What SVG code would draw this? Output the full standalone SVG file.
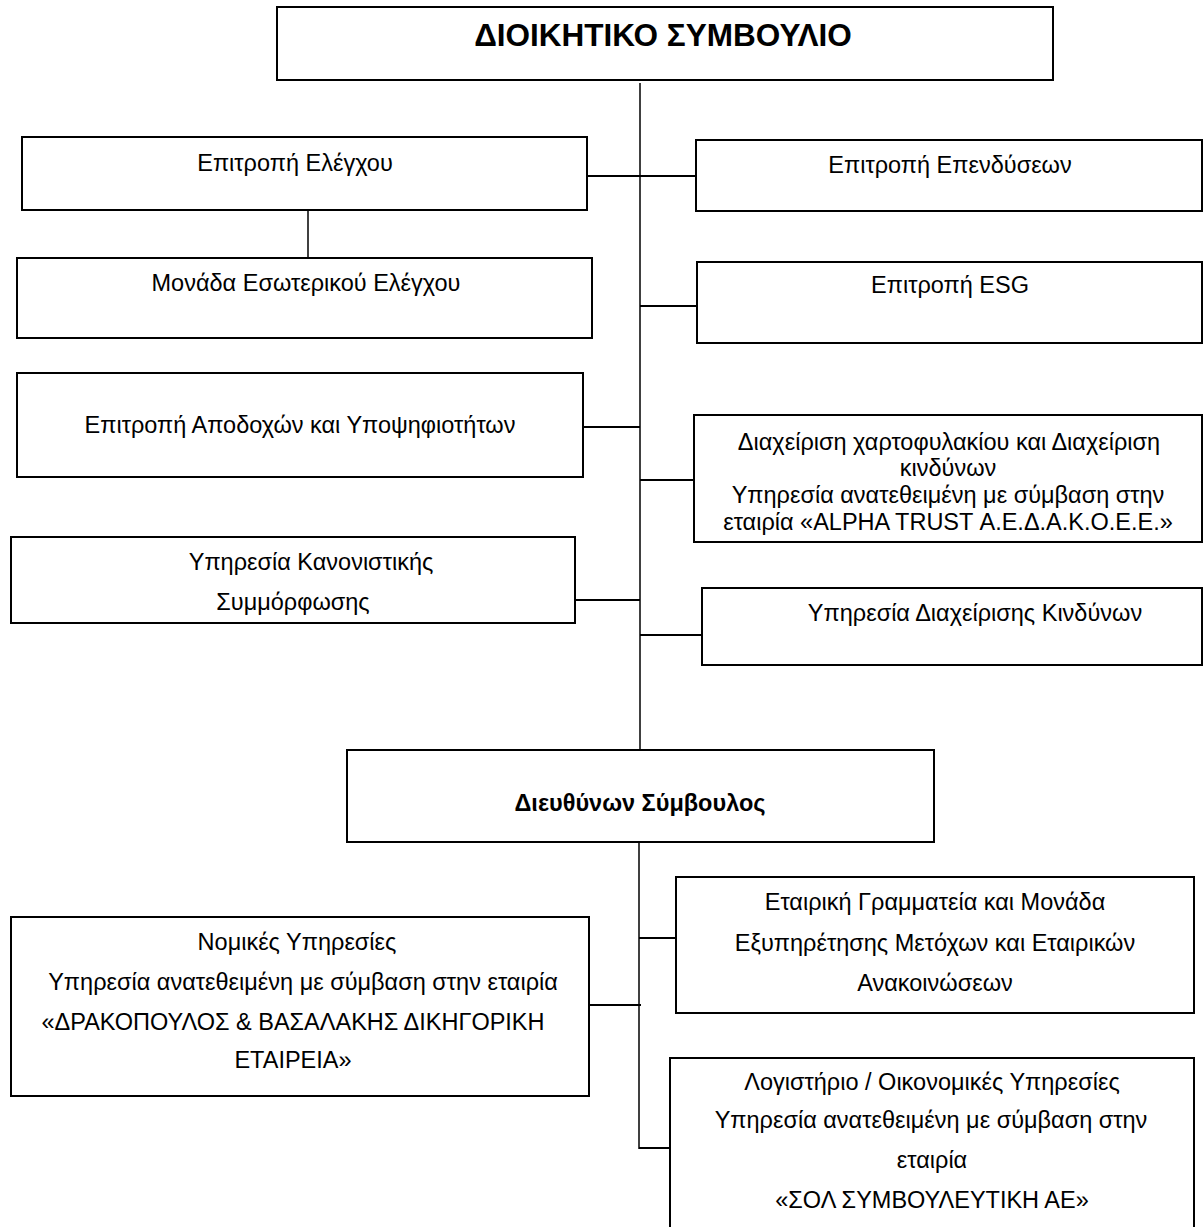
<svg xmlns="http://www.w3.org/2000/svg" width="1203" height="1227" viewBox="0 0 1203 1227">
<style>
.box{fill:#fff;stroke:#000;stroke-width:2}
.t{font-family:"Liberation Sans",Arial,sans-serif;font-size:23.5px;fill:#000;text-anchor:middle}
.b{font-weight:bold}
.c{stroke:#000;stroke-width:2;fill:none}
.trunk{stroke:#000;stroke-width:1.5;fill:none}
</style>
<rect width="1203" height="1227" fill="#fff"/>
<g id="connectors">
<line class="trunk" x1="640" y1="83" x2="640" y2="750"/>
<line class="trunk" x1="639" y1="843" x2="639" y2="1149"/>
<line class="c" x1="587" y1="176" x2="696" y2="176"/>
<line class="trunk" x1="308" y1="210" x2="308" y2="258"/>
<line class="c" x1="640" y1="306" x2="697" y2="306"/>
<line class="c" x1="583" y1="427" x2="640" y2="427"/>
<line class="c" x1="640" y1="480" x2="695" y2="480"/>
<line class="c" x1="575" y1="600" x2="640" y2="600"/>
<line class="c" x1="640" y1="635" x2="703" y2="635"/>
<line class="c" x1="639" y1="938" x2="676" y2="938"/>
<line class="c" x1="589" y1="1005" x2="641" y2="1005"/>
<line class="c" x1="639" y1="1148" x2="670" y2="1148"/>
</g>
<g id="board">
<rect class="box" x="277" y="7" width="776" height="73"/>
<text class="t b" x="663" y="46" style="font-size:31.5px">ΔΙΟΙΚΗΤΙΚΟ ΣΥΜΒΟΥΛΙΟ</text>
</g>
<g id="audit-committee">
<rect class="box" x="22" y="137" width="565" height="73"/>
<text class="t" x="295" y="171">Επιτροπή Ελέγχου</text>
</g>
<g id="investment-committee">
<rect class="box" x="696" y="140" width="506" height="71"/>
<text class="t" x="950" y="173">Επιτροπή Επενδύσεων</text>
</g>
<g id="internal-audit">
<rect class="box" x="17" y="258" width="575" height="80"/>
<text class="t" x="306" y="291">Μονάδα Εσωτερικού Ελέγχου</text>
</g>
<g id="esg-committee">
<rect class="box" x="697" y="262" width="505" height="81"/>
<text class="t" x="950" y="293">Επιτροπή ESG</text>
</g>
<g id="remuneration-committee">
<rect class="box" x="17" y="373" width="566" height="104"/>
<text class="t" x="300" y="433">Επιτροπή Αποδοχών και Υποψηφιοτήτων</text>
</g>
<g id="portfolio-management">
<rect class="box" x="694" y="415" width="508" height="127"/>
<text class="t" x="949" y="450">Διαχείριση χαρτοφυλακίου και Διαχείριση</text>
<text class="t" x="948" y="476">κινδύνων</text>
<text class="t" x="948" y="503">Υπηρεσία ανατεθειμένη με σύμβαση στην</text>
<text class="t" x="948" y="530">εταιρία «ALPHA TRUST Α.Ε.Δ.Α.Κ.Ο.Ε.Ε.»</text>
</g>
<g id="compliance">
<rect class="box" x="11" y="537" width="564" height="86"/>
<text class="t" x="311" y="570">Υπηρεσία Κανονιστικής</text>
<text class="t" x="293" y="610">Συμμόρφωσης</text>
</g>
<g id="risk-management">
<rect class="box" x="702" y="588" width="500" height="77"/>
<text class="t" x="975" y="621">Υπηρεσία Διαχείρισης Κινδύνων</text>
</g>
<g id="ceo">
<rect class="box" x="347" y="750" width="587" height="92"/>
<text class="t b" x="640" y="811">Διευθύνων Σύμβουλος</text>
</g>
<g id="corporate-secretariat">
<rect class="box" x="676" y="877" width="518" height="136"/>
<text class="t" x="935" y="910">Εταιρική Γραμματεία και Μονάδα</text>
<text class="t" x="935" y="951">Εξυπηρέτησης Μετόχων και Εταιρικών</text>
<text class="t" x="935" y="991">Ανακοινώσεων</text>
</g>
<g id="legal-services">
<rect class="box" x="11" y="917" width="578" height="179"/>
<text class="t" x="297" y="950">Νομικές Υπηρεσίες</text>
<text class="t" x="303" y="990">Υπηρεσία ανατεθειμένη με σύμβαση στην εταιρία</text>
<text class="t" x="293" y="1030">«ΔΡΑΚΟΠΟΥΛΟΣ &amp; ΒΑΣΑΛΑΚΗΣ ΔΙΚΗΓΟΡΙΚΗ</text>
<text class="t" x="293" y="1068">ΕΤΑΙΡΕΙΑ»</text>
</g>
<g id="accounting">
<rect class="box" x="670" y="1058" width="524" height="180"/>
<text class="t" x="932" y="1090">Λογιστήριο / Οικονομικές Υπηρεσίες</text>
<text class="t" x="931" y="1128">Υπηρεσία ανατεθειμένη με σύμβαση στην</text>
<text class="t" x="932" y="1168">εταιρία</text>
<text class="t" x="932" y="1208">«ΣΟΛ ΣΥΜΒΟΥΛΕΥΤΙΚΗ ΑΕ»</text>
</g>
</svg>
